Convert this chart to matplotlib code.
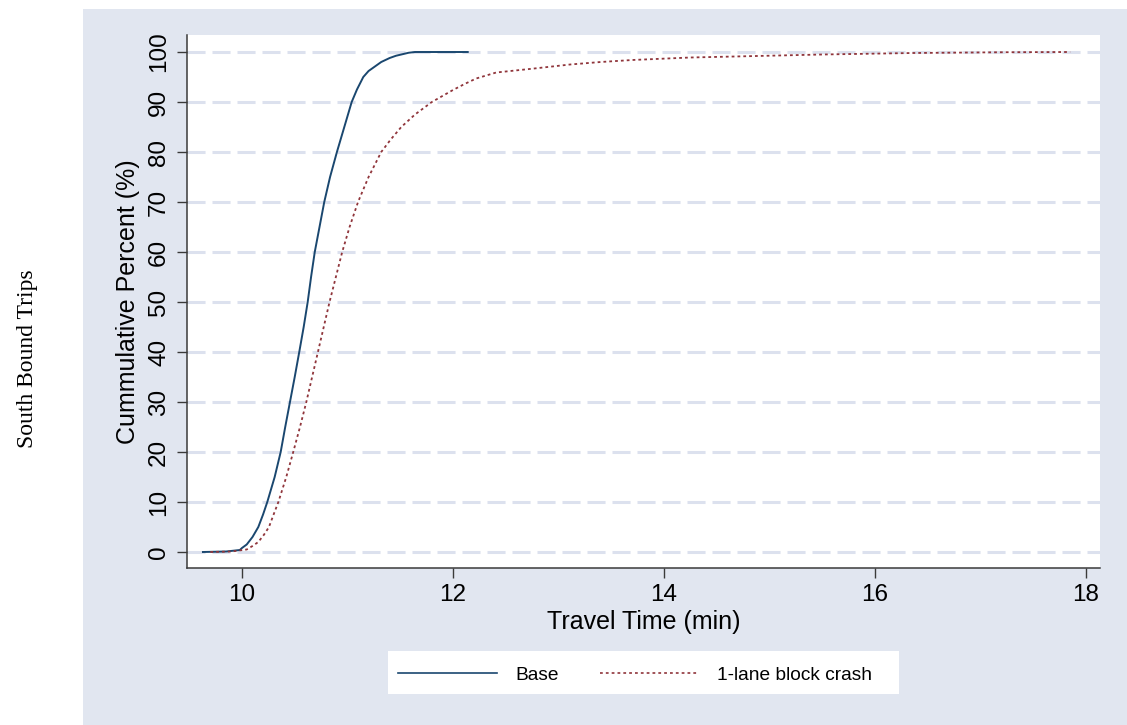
import matplotlib
matplotlib.use("Agg")
import matplotlib.pyplot as plt
from matplotlib.patches import Rectangle

# Cumulative travel-time distributions (minutes, cumulative %)
base_time = [9.63, 9.85, 9.98, 10.00, 10.045, 10.10, 10.155, 10.20, 10.24,
             10.31, 10.367, 10.41, 10.455, 10.50, 10.543, 10.585, 10.623,
             10.655, 10.69, 10.735, 10.78, 10.835, 10.90, 10.97, 11.04, 11.09,
             11.15, 11.20, 11.26, 11.32, 11.40, 11.46, 11.53, 11.58, 11.64,
             12.14]
base_pct = [0, 0.1, 0.4, 0.8, 1.5, 3, 5, 7.5, 10, 15, 20, 25, 30, 35, 40, 45,
            50, 55, 60, 65, 70, 75, 80, 85, 90, 92.5, 95, 96.2, 97.1, 98.0,
            98.8, 99.25, 99.6, 99.85, 100, 100]

crash_time = [9.70, 9.90, 10.045, 10.10, 10.155, 10.21, 10.256, 10.30, 10.345,
              10.42, 10.486, 10.55, 10.61, 10.665, 10.72, 10.775, 10.83, 10.89,
              10.95, 11.02, 11.10, 11.20, 11.32, 11.41, 11.51, 11.64, 11.80,
              11.90, 12.00, 12.11, 12.22, 12.41, 12.77, 13.11, 13.40, 13.70,
              14.25, 14.88, 15.50, 16.36, 17.20, 17.85]
crash_pct = [0, 0.1, 0.5, 1.2, 2, 3.5, 5, 7.5, 10, 15, 20, 25, 30, 35, 40, 45,
             50, 55, 60, 65, 70, 75, 80, 82.5, 85, 87.5, 90, 91.2, 92.4, 93.6,
             94.7, 95.9, 96.7, 97.5, 98.0, 98.4, 98.9, 99.2, 99.5, 99.8, 99.95,
             100]

x_ticks = [10, 12, 14, 16, 18]
y_ticks = [0, 10, 20, 30, 40, 50, 60, 70, 80, 90, 100]

series_labels = ["Base", "1-lane block crash"]

NAVY = "#1A476F"
MAROON = "#90353B"
PANEL = "#E1E6F0"
GRID = "#DCE1EE"

plt.rcParams["font.family"] = ["Liberation Sans", "DejaVu Sans"]
plt.rcParams["lines.scale_dashes"] = False

W, H = 1127, 725
fig = plt.figure(figsize=(W / 100, H / 100), dpi=100)
fig.patch.set_facecolor("white")

# shaded graph region
fig.patches.append(Rectangle((83 / W, 0), 1 - 83 / W, 1 - 9 / H,
                             transform=fig.transFigure, facecolor=PANEL,
                             edgecolor="none", zorder=-5))
# white legend box
fig.patches.append(Rectangle((388 / W, 1 - 694 / H), 511 / W, 43 / H,
                             transform=fig.transFigure, facecolor="white",
                             edgecolor="none", zorder=-4))

ax = fig.add_axes([187 / W, 1 - 568 / H, 913 / W, 533 / H])
ax.set_zorder(2)
ax.set_facecolor("white")

ax.plot(base_time, base_pct, color=NAVY, lw=1.4, label=series_labels[0],
        zorder=3)
ax.plot(crash_time, crash_pct, color=MAROON, lw=1.3,
        linestyle=(0, (2.0, 2.2)), label=series_labels[1], zorder=3)

ax.set_xlim(9.479, 18.133)
ax.set_ylim(-3.2, 103.4)
ax.set_xticks(x_ticks)
ax.set_yticks(y_ticks)

for yv in y_ticks:
    ax.axhline(yv, color=GRID, lw=2.2, linestyle=(0, (13, 5)), zorder=1)

for side in ("top", "right"):
    ax.spines[side].set_visible(False)
for side in ("left", "bottom"):
    ax.spines[side].set_color("#3a3a3a")
    ax.spines[side].set_linewidth(1.1)

ax.tick_params(axis="both", direction="out", length=7.2, width=1.0,
               color="#3a3a3a", labelsize=17.5, labelcolor="black")
ax.tick_params(axis="x", pad=4.0)
ax.tick_params(axis="y", pad=5.0)
for lbl in ax.get_yticklabels():
    lbl.set_rotation(90)
    lbl.set_verticalalignment("center")

ax.set_xlabel("Travel Time (min)", fontsize=18, va="center")
ax.xaxis.set_label_coords(0.5, (568 - 622) / 533)
ax.set_ylabel("Cummulative Percent (%)", fontsize=18, va="center")
ax.yaxis.set_label_coords((128 - 187) / 913, 0.5)

leg = fig.legend(loc="center", bbox_to_anchor=(635 / W, 1 - 675 / H),
                 ncol=2, fontsize=13.8, frameon=False,
                 handlelength=5.15, handletextpad=0.95, columnspacing=2.15,
                 borderpad=0.3, borderaxespad=0)
for line in leg.get_lines():
    line.set_linewidth(1.2)

fig.text(28 / W, 1 - 359 / H, "South Bound Trips", rotation=90,
         ha="center", va="center", fontsize=17,
         family=["Liberation Serif", "DejaVu Serif"])

fig.savefig("out.png", dpi=100, facecolor=fig.get_facecolor())
